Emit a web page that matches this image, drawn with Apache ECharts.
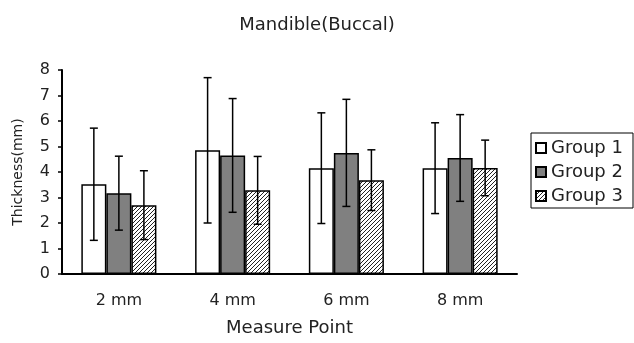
<!DOCTYPE html>
<html>
<head>
<meta charset="utf-8">
<script src="https://cdn.jsdelivr.net/npm/echarts@6/dist/echarts.min.js"></script>
<style>
    html, body { margin: 0; padding: 0; background: #fff; }
    #chart { width: 634px; height: 343px; }
</style>
</head>
<body>
<div id="chart"></div>
<script>
'use strict'

var categories = ['2 mm', '4 mm', '6 mm', '8 mm'];
var groupNames = ['Group 1', 'Group 2', 'Group 3'];

// means and SD
var group1Mean = [3.52, 4.85, 4.15, 4.15];
var group1Sd = [2.2, 2.85, 2.17, 1.78];
var group2Mean = [3.17, 4.65, 4.75, 4.55];
var group2Sd = [1.45, 2.23, 2.1, 1.7];
var group3Mean = [2.7, 3.28, 3.68, 4.16];
var group3Sd = [1.35, 1.33, 1.19, 1.09];

var yTicks = [0, 8, 1];

var font = 'DejaVu Sans';
var barPct = 0.22;

// hatch for group 3 ("////")
function hatch() {
    var c = document.createElement('canvas');
    c.width = 4;
    c.height = 4;
    var ctx = c.getContext('2d');
    ctx.fillStyle = '#fff';
    ctx.fillRect(0, 0, 4, 4);
    ctx.strokeStyle = '#222';
    ctx.lineWidth = 1;
    ctx.beginPath();
    ctx.moveTo(0, 4); ctx.lineTo(4, 0);
    ctx.moveTo(-1, 1); ctx.lineTo(1, -1);
    ctx.moveTo(3, 5); ctx.lineTo(5, 3);
    ctx.stroke();
    return { image: c, repeat: 'repeat' };
}

var fills = ['#ffffff', '#808080', hatch()];
var means = [group1Mean, group2Mean, group3Mean];
var sds = [group1Sd, group2Sd, group3Sd];

var series = [];
for (var g = 0; g < 3; g++) {
    series.push({
        name: groupNames[g],
        type: 'bar',
        barWidth: (barPct * 100) + '%',
        barGap: '0%',
        itemStyle: { color: fills[g], borderColor: '#000', borderWidth: 1.5 },
        data: means[g]
    });
}

function errorBars(g) {
    var data = [];
    for (var i = 0; i < categories.length; i++) {
        data.push([i, means[g][i] - sds[g][i], means[g][i] + sds[g][i]]);
    }
    return {
        name: 'err' + g,
        type: 'custom',
        z: 10,
        encode: { x: 0, y: [1, 2] },
        renderItem: function (params, api) {
            var xi = api.value(0);
            var lo = api.coord([xi, api.value(1)]);
            var hi = api.coord([xi, api.value(2)]);
            var band = api.size([1, 0])[0];
            var x = lo[0] + (g - 1) * band * barPct;
            var cap = 4;
            var st = { stroke: '#000', lineWidth: 1.5 };
            return {
                type: 'group',
                children: [
                    { type: 'line', shape: { x1: x, y1: lo[1], x2: x, y2: hi[1] }, style: st },
                    { type: 'line', shape: { x1: x - cap, y1: hi[1], x2: x + cap, y2: hi[1] }, style: st },
                    { type: 'line', shape: { x1: x - cap, y1: lo[1], x2: x + cap, y2: lo[1] }, style: st }
                ]
            };
        },
        data: data
    };
}
for (var k = 0; k < 3; k++) {
    series.push(errorBars(k));
}

var myChart = echarts.init(document.getElementById('chart'));

var option = {
    animation: false,
    title: {
        text: 'Mandible(Buccal)',
        left: 'center',
        top: 11,
        textStyle: { fontFamily: font, fontSize: 18, fontWeight: 'normal', color: '#222' }
    },
    legend: {
        data: groupNames,
        orient: 'vertical',
        left: 531,
        top: 133,
        padding: [6, 6, 3, 4],
        itemGap: 6,
        itemWidth: 10,
        itemHeight: 10,
        icon: 'rect',
        borderColor: '#000',
        borderWidth: 1,
        borderRadius: 0,
        textStyle: { fontFamily: font, fontSize: 18, color: '#222', lineHeight: 18, width: 76 }
    },
    grid: { left: 62, right: 117, top: 70, bottom: 69 },
    xAxis: {
        type: 'category',
        data: categories,
        name: 'Measure Point',
        nameLocation: 'middle',
        nameGap: 45,
        nameTextStyle: { fontFamily: font, fontSize: 18, color: '#222' },
        axisLine: { lineStyle: { color: '#000', width: 2 } },
        axisTick: { show: false },
        axisLabel: { fontFamily: font, fontSize: 16, color: '#222', margin: 19 }
    },
    yAxis: {
        type: 'value',
        min: yTicks[0],
        max: yTicks[1],
        interval: yTicks[2],
        name: 'Thickness(mm)',
        nameLocation: 'middle',
        nameGap: 37,
        nameTextStyle: { fontFamily: font, fontSize: 14, color: '#222' },
        axisLine: { show: true, lineStyle: { color: '#000', width: 2 } },
        axisTick: { show: true, length: 4, lineStyle: { color: '#000', width: 1.5 } },
        axisLabel: { fontFamily: font, fontSize: 16, color: '#222', margin: 12 },
        splitLine: { show: false }
    },
    series: series
};

myChart.setOption(option);
</script>
</body>
</html>
